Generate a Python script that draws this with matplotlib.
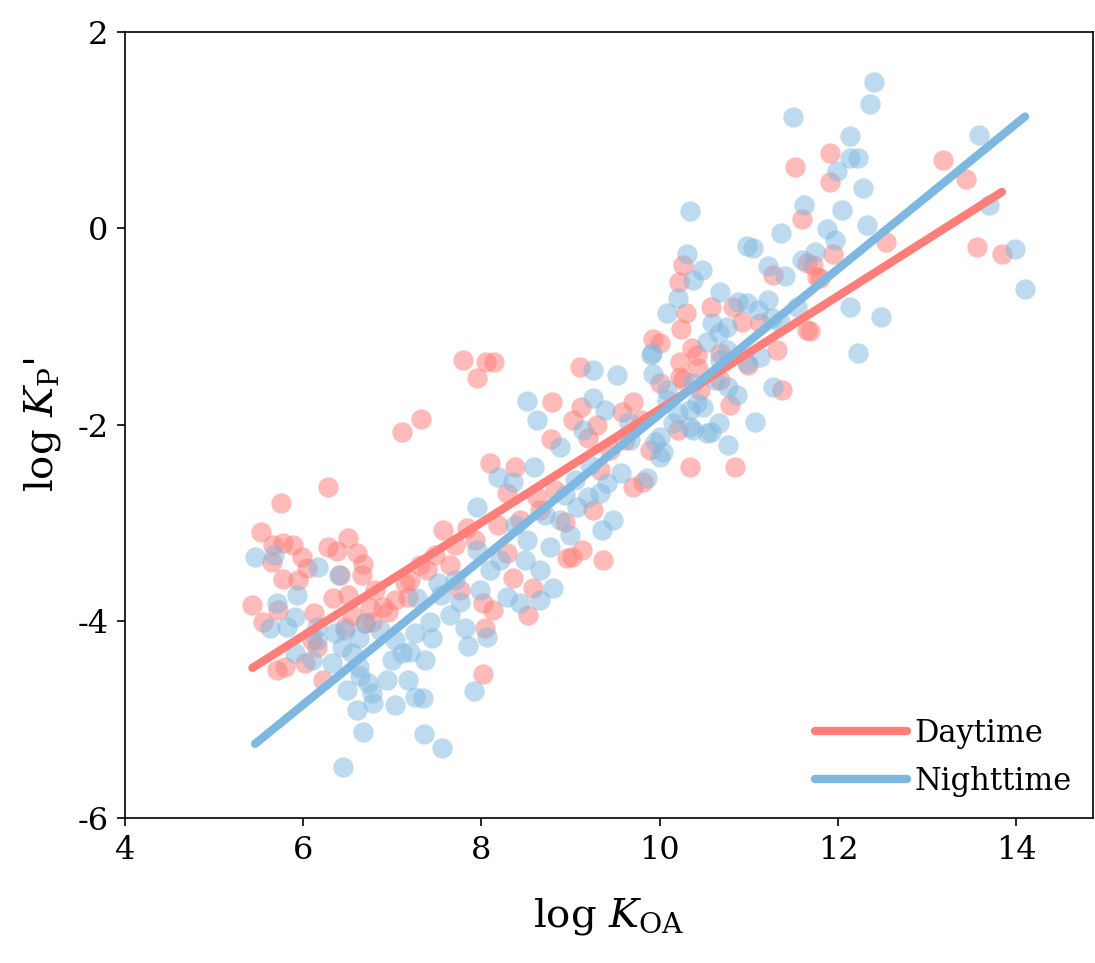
import numpy as np
import matplotlib
matplotlib.use("Agg")
import matplotlib.pyplot as plt

plt.rcParams['font.family'] = 'DejaVu Serif'
plt.rcParams['mathtext.fontset'] = 'custom'
plt.rcParams['mathtext.rm'] = 'DejaVu Serif'
plt.rcParams['mathtext.it'] = 'DejaVu Serif:italic'
plt.rcParams['axes.unicode_minus'] = False

# Daytime points (log KOA, log Kp')
day_x = [6.28, 5.75, 5.53, 5.66, 5.77, 5.89, 5.99, 5.65, 6.28, 6.38, 6.50, 6.60, 6.67, 6.66,
         6.41, 6.04, 5.77, 5.94, 5.43, 5.72, 5.55, 6.12, 6.33, 6.50, 6.55, 6.75, 6.90, 6.95,
         6.77, 6.69, 6.10, 6.15, 5.71, 5.80, 6.02, 6.22, 6.47, 7.14, 7.18,
         7.79, 8.05, 8.14, 7.95, 7.32, 7.11, 8.79, 9.03, 8.78, 8.10, 8.38, 8.62, 7.57, 7.84, 8.29,
         8.18, 7.65, 7.39, 7.20, 8.02, 8.13, 8.52, 8.04, 8.02, 8.29, 8.96, 8.35, 8.58,
         9.10, 10.23, 10.42, 9.70, 9.12, 9.58, 9.30, 9.20, 10.00, 10.26, 10.34, 9.81, 9.70,
         9.25, 8.94, 9.13, 9.36, 9.02, 10.21, 9.89,
         10.26, 10.22, 10.29, 10.24, 10.57, 10.82, 10.92, 11.13, 10.36, 10.43, 10.68, 11.27,
         11.65, 11.77, 11.65, 11.32, 11.37, 10.79, 10.23, 10.85, 10.99,
         11.91, 11.91, 11.95, 11.72, 11.80, 11.69, 12.54, 13.18, 13.44, 13.56, 13.84,
         11.60, 11.52, 9.93, 10.00,
         7.31, 7.48, 7.70, 7.93, 8.43, 8.66, 7.76, 7.03, 6.81, 9.44, 9.61, 9.79, 9.33, 8.83,
         10.45, 10.68]
day_y = [-2.63, -2.79, -3.09, -3.22, -3.20, -3.22, -3.34, -3.39, -3.24, -3.28, -3.15, -3.30, -3.42, -3.53,
         -3.53, -3.46, -3.57, -3.58, -3.83, -3.88, -4.01, -3.91, -3.76, -3.73, -3.93, -3.86, -3.85, -3.90,
         -4.01, -4.02, -4.19, -4.26, -4.49, -4.46, -4.42, -4.60, -4.06, -3.61, -3.75,
         -1.34, -1.36, -1.36, -1.52, -1.94, -2.07, -1.77, -1.95, -2.14, -2.39, -2.43, -2.73, -3.07, -3.05, -2.69,
         -3.02, -3.43, -3.48, -3.58, -3.81, -3.88, -3.93, -4.07, -4.53, -3.30, -3.35, -3.56, -3.66,
         -1.41, -1.36, -1.29, -1.77, -1.82, -1.87, -2.00, -2.13, -1.57, -1.54, -2.43, -2.58, -2.63,
         -2.87, -2.99, -3.27, -3.37, -3.34, -2.05, -2.25,
         -0.37, -0.54, -0.86, -1.02, -0.80, -0.80, -0.95, -0.96, -1.22, -1.42, -1.27, -0.47,
         -0.35, -0.49, -1.03, -1.24, -1.64, -1.80, -1.51, -2.43, -1.39,
         0.77, 0.47, -0.26, -0.37, -0.50, -1.04, -0.14, 0.70, 0.50, -0.19, -0.26,
         0.10, 0.63, -1.12, -1.17,
         -3.43, -3.32, -3.22, -3.17, -2.97, -2.87, -3.68, -3.78, -3.68, -2.25, -2.15, -1.95, -2.46, -2.66,
         -1.64, -1.54]

# Nighttime points
night_x = [5.46, 5.67, 6.17, 6.40, 5.93, 5.71, 5.91, 5.63, 5.82, 6.15, 6.36, 6.47, 6.62, 6.69,
           5.91, 6.10, 6.15, 6.32, 6.44, 6.55, 6.62, 6.49, 6.64, 6.73, 6.77, 6.94, 7.03, 6.78,
           6.60, 6.67, 6.45, 7.18, 7.25, 7.00, 7.11,
           8.51, 8.62, 8.88, 8.19, 8.35, 8.59, 7.95,
           7.95, 8.51, 8.77, 8.66, 8.80, 8.66, 8.43, 8.29, 7.98, 7.76, 7.65, 7.42, 7.82, 8.06,
           7.85, 7.45, 7.25, 7.20, 7.37, 7.34, 7.92, 7.51, 7.28, 7.56, 7.36,
           9.25, 9.52, 9.93, 9.90, 9.25, 9.39, 9.65, 9.14, 9.95, 10.00, 9.86, 9.56, 9.41, 9.33,
           9.19, 9.07, 9.48, 9.35, 8.88, 10.08, 10.20, 10.53, 10.34, 10.42,
           10.31, 10.48, 10.37, 10.20, 10.08, 10.68, 10.88, 10.98, 11.21, 11.41, 11.60, 11.22,
           11.10, 10.59, 10.76, 10.53, 10.66, 10.76, 10.68, 10.98, 11.13, 10.62, 10.77, 10.87,
           10.37, 10.08, 10.34, 10.49, 10.66, 10.57, 10.37, 10.15, 11.07, 11.27, 10.77, 10.04, 10.00,
           12.40, 12.36, 12.14, 12.14, 12.23, 11.99, 12.28, 12.05, 12.33, 11.88, 11.97, 11.74,
           11.62, 12.13, 12.48, 12.23, 13.58, 13.70, 13.99, 14.10, 11.50, 10.34,
           11.36, 10.98, 11.05, 11.54, 11.26, 11.35, 9.91,
           8.21, 8.38, 8.71, 8.94, 9.05, 9.22, 9.67, 7.70, 7.54, 8.10, 8.49, 8.99, 7.03, 6.86]
night_y = [-3.34, -3.32, -3.45, -3.53, -3.73, -3.81, -3.95, -4.07, -4.06, -4.06, -4.12, -4.09, -4.17, -4.02,
           -4.32, -4.39, -4.19, -4.42, -4.26, -4.32, -4.46, -4.70, -4.56, -4.63, -4.73, -4.60, -4.85, -4.83,
           -4.90, -5.12, -5.48, -4.60, -4.77, -4.39, -4.32,
           -1.76, -1.95, -2.22, -2.53, -2.58, -2.43, -2.83,
           -3.27, -3.17, -3.24, -3.48, -3.66, -3.78, -3.81, -3.75, -3.68, -3.80, -3.93, -4.01, -4.07, -4.16,
           -4.25, -4.17, -4.12, -4.31, -4.39, -4.78, -4.71, -3.61, -3.76, -5.29, -5.15,
           -1.44, -1.49, -1.48, -1.29, -1.73, -1.85, -1.97, -2.05, -2.17, -2.33, -2.54, -2.49, -2.59, -2.69,
           -2.73, -2.83, -2.97, -3.07, -2.97, -1.75, -1.88, -2.08, -2.02, -1.78,
           -0.26, -0.42, -0.52, -0.71, -0.86, -0.65, -0.75, -0.76, -0.38, -0.48, -0.32, -0.73,
           -0.83, -0.96, -1.00, -1.16, -1.06, -1.24, -1.34, -1.37, -1.31, -1.54, -1.61, -1.69,
           -1.57, -1.64, -1.85, -1.82, -1.98, -2.07, -2.05, -1.98, -1.97, -1.61, -2.20, -2.28, -2.12,
           1.49, 1.27, 0.94, 0.72, 0.72, 0.58, 0.41, 0.19, 0.04, -0.01, -0.12, -0.24,
           0.24, -0.80, -0.90, -1.27, 0.95, 0.24, -0.21, -0.62, 1.13, 0.18,
           -0.05, -0.18, -0.20, -0.80, -0.91, -0.95, -1.27,
           -3.37, -3.02, -2.92, -2.71, -2.56, -2.41, -2.15, -3.58, -3.73, -3.48, -3.37, -3.12, -4.19, -4.09]

# linear fits (slope, intercept)
day_fit = (0.576, -7.60)
night_fit = (0.739, -9.28)

red = '#FF7E79'
blue = '#7EB7DF'

fig = plt.figure(figsize=(10.95, 9.63), dpi=100)
ax = fig.add_axes([0.1142, 0.1506, 0.8838, 0.8162])

ax.scatter(day_x, day_y, s=215, color=red, alpha=0.52, linewidths=0, zorder=2)
ax.scatter(night_x, night_y, s=215, color=blue, alpha=0.5, linewidths=0, zorder=2)

xd = np.array([min(day_x), max(day_x)])
xn = np.array([min(night_x), max(night_x)])
ax.plot(xd, day_fit[0] * xd + day_fit[1], color=red, lw=6, solid_capstyle='round',
        label='Daytime', zorder=3)
ax.plot(xn, night_fit[0] * xn + night_fit[1], color=blue, lw=6, solid_capstyle='round',
        label='Nighttime', zorder=4)

ax.set_xlim(4, 14.86)
ax.set_ylim(-6, 2)
ax.set_xticks([4, 6, 8, 10, 12, 14])
ax.set_yticks([-6, -4, -2, 0, 2])
ax.tick_params(direction='out', length=6, width=1.2, labelsize=23, pad=6)
for sp in ax.spines.values():
    sp.set_linewidth(1.2)

ax.set_xlabel(r'log $\mathit{K}_{\mathrm{OA}}$', fontsize=29, labelpad=22)
ax.set_ylabel(r"log $\mathit{K}_{\mathrm{P}}$'", fontsize=29, labelpad=10)

ax.legend(loc='lower right', frameon=False, fontsize=22, handlelength=3.0,
          handletextpad=0.25, labelspacing=0.55, borderaxespad=0.3)

fig.savefig('out.png', dpi=100)
